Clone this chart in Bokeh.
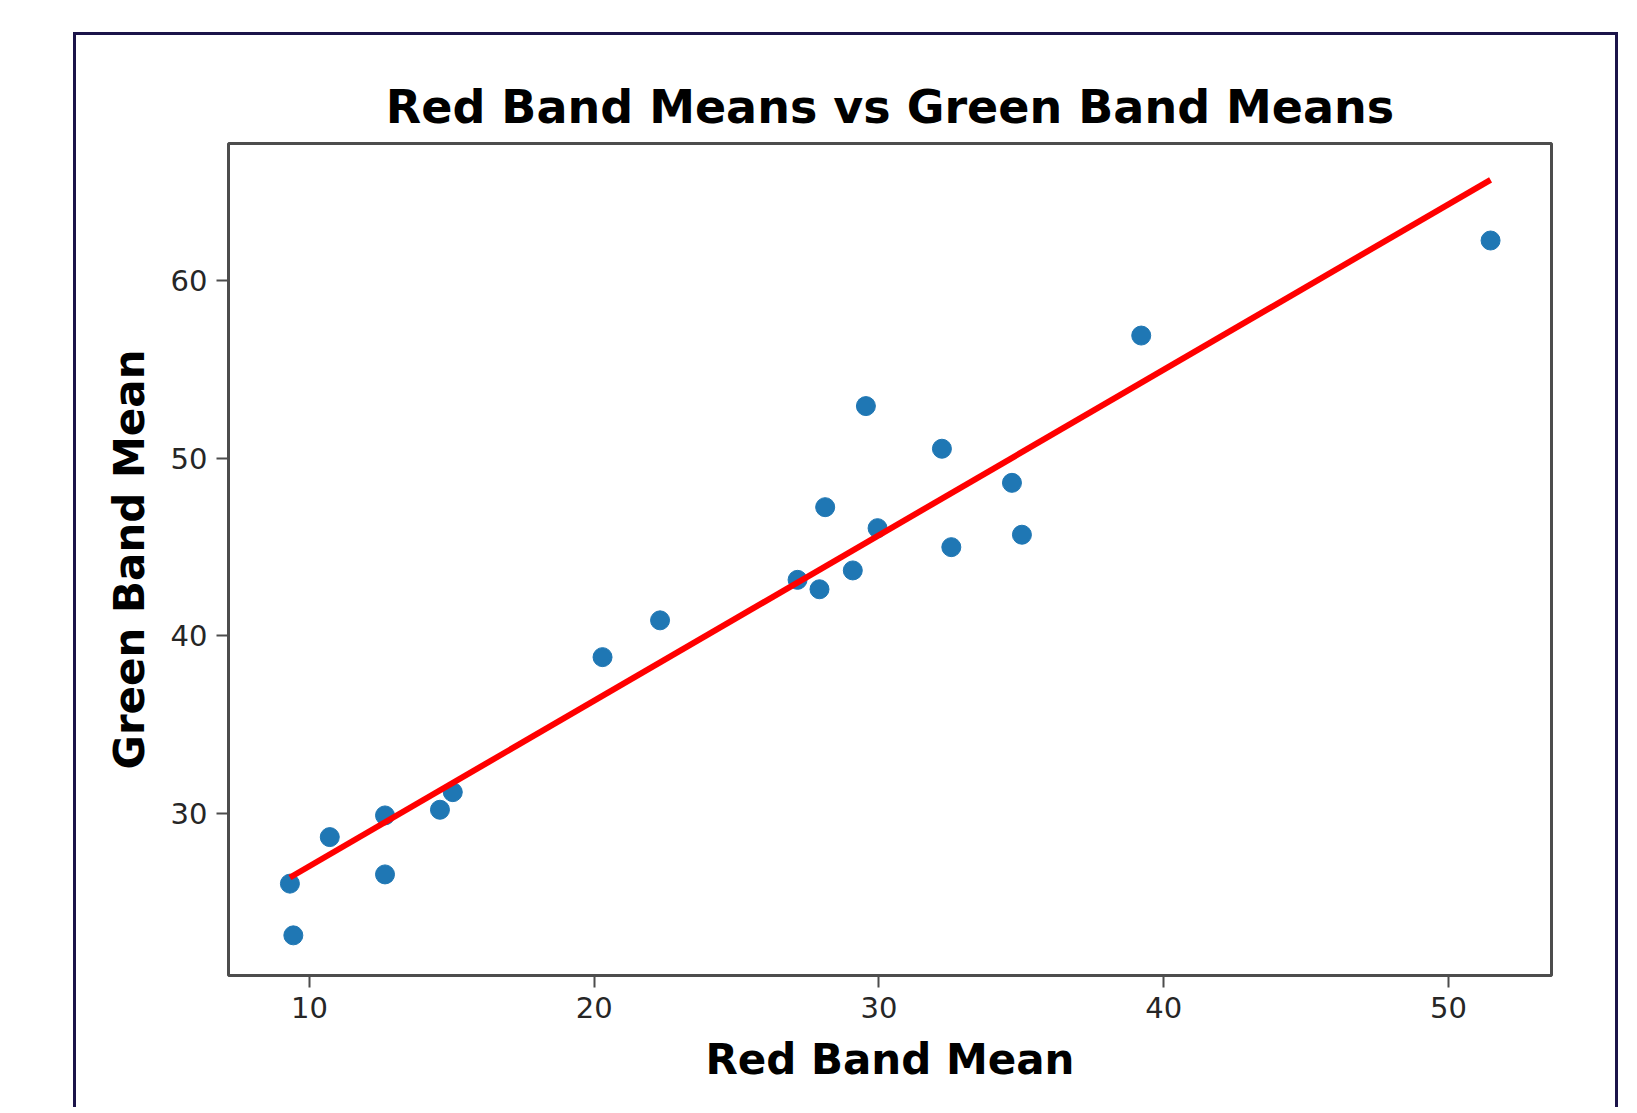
import numpy as np
from bokeh.plotting import figure
from bokeh.models import Range1d, FixedTicker
from bokeh.embed import file_html
from bokeh.resources import INLINE

# Data
red_means = [9.31, 9.43, 10.71, 12.65, 12.65, 14.58, 15.03, 20.29, 22.31, 27.14, 27.91,
             28.11, 29.08, 29.54, 29.95, 32.21, 32.54, 34.67, 35.02, 39.21, 51.48]
green_means = [26.05, 23.14, 28.67, 29.89, 26.57, 30.21, 31.20, 38.80, 40.87, 43.15, 42.62,
               47.24, 43.68, 52.93, 46.06, 50.53, 44.99, 48.61, 45.69, 56.90, 62.25]
x_ticks = [10, 20, 30, 40, 50]
y_ticks = [30, 40, 50, 60]
title_text = "Red Band Means vs Green Band Means"
x_label = "Red Band Mean"
y_label = "Green Band Mean"

FONT = "DejaVu Sans"

p = figure(width=1545, height=1075, output_backend="svg", toolbar_location=None,
           x_range=Range1d(7.153, 53.62), y_range=Range1d(20.88, 67.71),
           min_border_left=152, min_border_right=70, min_border_top=108, min_border_bottom=135)

p.styles = {
    "margin-left": "73px",
    "margin-top": "32px",
    "border-top": "3px solid #1b1449",
    "border-left": "3px solid #1b1449",
    "border-right": "3px solid #1b1449",
}

p.background_fill_color = "white"
p.border_fill_color = "white"
p.outline_line_color = "#4d4d4d"
p.outline_line_width = 3
p.outline_line_alpha = 1.0
p.xgrid.visible = False
p.ygrid.visible = False

p.title.text = title_text
p.title.align = "center"
p.title.text_font = FONT
p.title.text_font_size = "46px"
p.title.text_font_style = "bold"
p.title.text_color = "black"
p.title.standoff = 19

for ax, ticks, lab in ((p.xaxis, x_ticks, x_label), (p.yaxis, y_ticks, y_label)):
    ax.ticker = FixedTicker(ticks=ticks)
    ax.axis_line_color = None
    ax.major_tick_line_color = "#4d4d4d"
    ax.major_tick_line_width = 2
    ax.major_tick_out = 12
    ax.major_tick_in = 0
    ax.minor_tick_line_color = None
    ax.major_label_text_font = FONT
    ax.major_label_text_font_size = "29px"
    ax.major_label_text_color = "#262626"
    ax.major_label_standoff = 9
    ax.axis_label = lab
    ax.axis_label_text_font = FONT
    ax.axis_label_text_font_size = "42px"
    ax.axis_label_text_font_style = "bold"
    ax.axis_label_text_color = "black"
    ax.axis_label_standoff = 14

p.yaxis.major_label_orientation = "horizontal"

p.scatter(red_means, green_means, size=19, fill_color="#1f77b4", line_color="#1f77b4")

slope, intercept = np.polyfit(red_means, green_means, 1)
fit_x = np.array([min(red_means), max(red_means)])
p.line(fit_x, slope * fit_x + intercept, line_color="red", line_width=6)

open("out.html", "w").write(file_html(p, INLINE))
